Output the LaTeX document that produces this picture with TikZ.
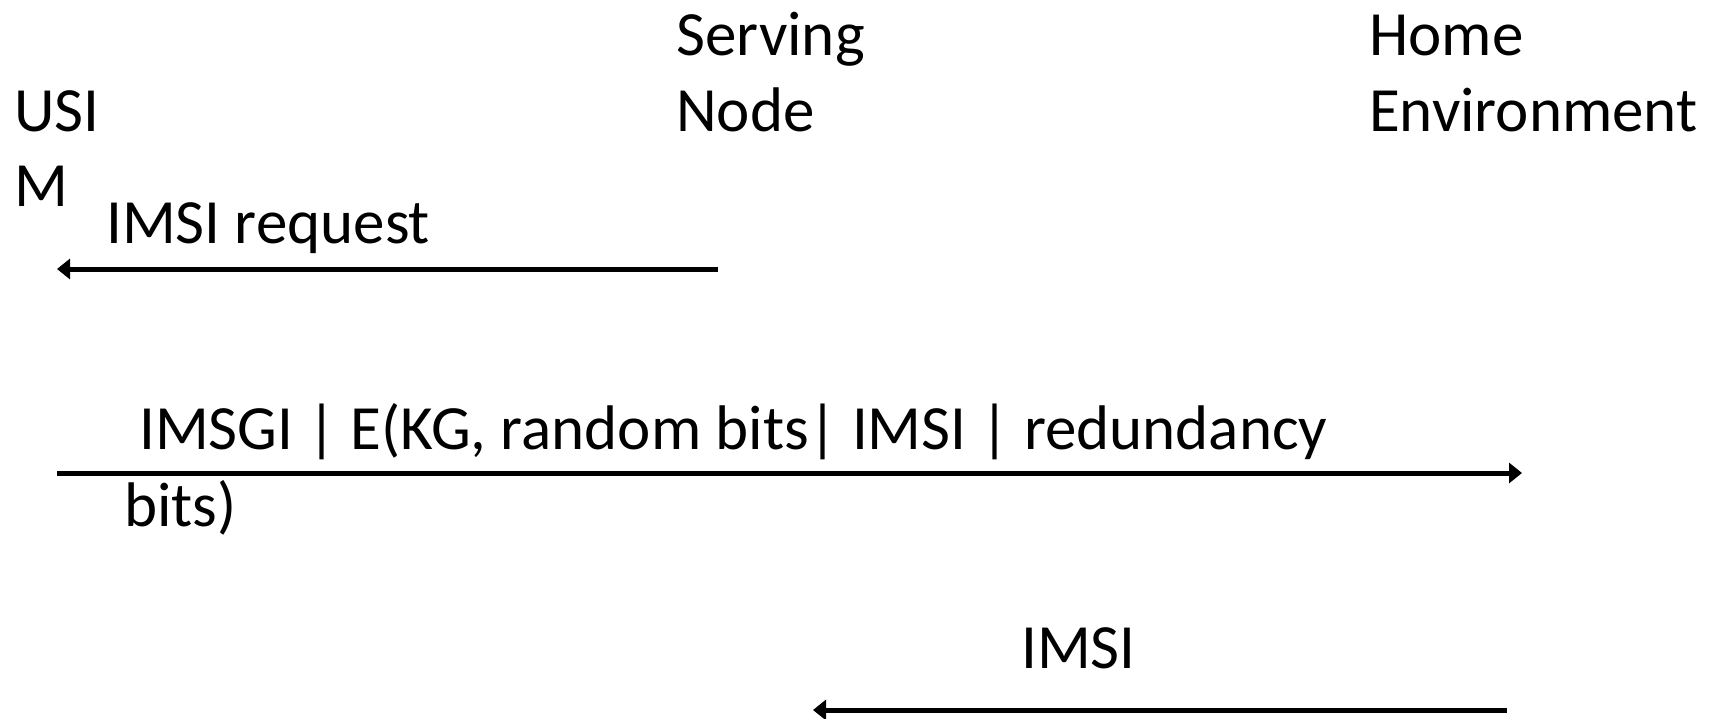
\documentclass[tikz,border=0pt]{standalone}
\usepackage{fontspec}
\setmainfont{Carlito}
\usetikzlibrary{arrows.meta}
\begin{document}
\begin{tikzpicture}[x=1pt,y=-1pt,
  lbl/.style={font=\fontsize{63}{76}\selectfont, inner sep=0pt, anchor=base west},
  msg/.style={line width=5pt, -{Triangle[length=13pt,width=20pt]}}]
\useasboundingbox (0,0) rectangle (1717,718);
% actors
\node[lbl] (usim1) at (14,131) {USI};
\node[lbl] (usim2) at (14,206) {M};
\node[lbl] (sn1) at (676,55) {Serving};
\node[lbl] (sn2) at (676,131) {Node};
\node[lbl] (he1) at (1369,55) {Home};
\node[lbl] (he2) at (1369,131) {Environment};
% message 1
\node[lbl] (m1) at (106,243) {IMSI request};
\coordinate (a1s) at (718,269);
\coordinate (a1e) at (57,269);
\draw[msg] (a1s) -- (a1e);
% message 2
\node[lbl] (m2a) at (139,449) {IMSGI | E(KG, random bits| IMSI | redundancy};
\node[lbl] (m2b) at (124,526) {bits)};
\coordinate (a2s) at (57,473);
\coordinate (a2e) at (1522,473);
\draw[msg] (a2s) -- (a2e);
% message 3
\node[lbl] (m3) at (1021,668) {IMSI};
\coordinate (a3s) at (1507,710);
\coordinate (a3e) at (813,710);
\draw[msg] (a3s) -- (a3e);
\end{tikzpicture}
\end{document}
